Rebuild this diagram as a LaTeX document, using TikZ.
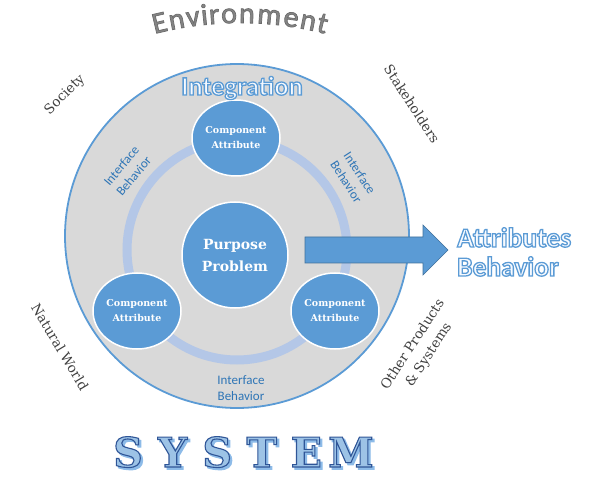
\documentclass[tikz,border=0pt]{standalone}
\usepackage{fontspec}
\usetikzlibrary{shapes.geometric,decorations.text}
\setmainfont{DejaVu Serif}
\newfontfamily\carlito{Carlito}
\definecolor{mainblue}{HTML}{5B9BD5}
\definecolor{darkblue}{HTML}{41719C}
\definecolor{ringblue}{HTML}{B4C7E7}
\definecolor{circgray}{HTML}{D9D9D9}
\definecolor{labelblue}{HTML}{2E75B6}
\definecolor{worldtext}{HTML}{404040}
% outlined text: #1 text, #2 stroke width, #3 stroke rgb, #4 fill rgb
\newcommand{\strokedtext}[4]{\special{pdf:literal direct q 2 Tr #2 w #3 RG #4 rg}#1\special{pdf:literal direct Q}}
\newcommand{\outlinetext}[1]{\strokedtext{#1}{1.3}{0.357 0.608 0.835}{0.97 0.98 1}}
\newcommand{\envchar}[1]{\strokedtext{#1}{0.7}{0.42 0.42 0.42}{0.52 0.52 0.52}}
\newcommand{\sysletter}[1]{\makebox[44.6pt]{\rlap{\hspace{2.2pt}\raisebox{-2.2pt}{\strokedtext{#1}{1.2}{0.553 0.733 0.91}{0.553 0.733 0.91}}}\strokedtext{#1}{1.1}{0.184 0.333 0.592}{0.616 0.765 0.902}}}
\tikzset{
  comp/.style={ellipse, fill=mainblue, draw=white, line width=1.5pt, minimum width=88pt, minimum height=76pt, inner sep=0pt, text=white, font=\fontsize{9.5}{15}\selectfont\bfseries, align=center},
  iface/.style={text=labelblue, font=\carlito\fontsize{13}{16}\selectfont, align=center, inner sep=0pt},
  world/.style={font=\fontsize{13.5}{19}\selectfont, text=worldtext, align=center, inner sep=0pt},
  bigout/.style={font=\carlito\bfseries\fontsize{26.5}{29}\selectfont, inner sep=0pt},
  arrowshape/.style={fill=mainblue, draw=darkblue, line width=0.6pt, line join=miter}
}
\begin{document}
\begin{tikzpicture}[x=1pt,y=1pt]
\useasboundingbox (0,0) rectangle (595,-481);
% system circle
\node[circle, fill=circgray, draw=mainblue, line width=1.8pt, minimum size=344pt, inner sep=0pt] (sys) at (237,-236) {};
% interface ring
\node[circle, draw=ringblue, line width=9pt, minimum size=220pt, inner sep=0pt] (ring) at (237,-250) {};
% output arrow
\draw[arrowshape] (305,-237) -- (423,-237) -- (423,-225) -- (448,-250) -- (423,-275) -- (423,-263) -- (305,-263) -- cycle;
% centre and components
\node[circle, fill=mainblue, draw=white, line width=1.5pt, minimum size=106pt, inner sep=0pt, text=white, font=\fontsize{14}{22}\selectfont\bfseries, align=center] (purpose) at (235,-255) {Purpose\\Problem};
\node[comp] (comptop) at (236,-138) {Component\\Attribute};
\node[comp] (compleft) at (137,-311) {Component\\Attribute};
\node[comp] (compright) at (335,-311) {Component\\Attribute};
% interface labels
\node[iface, rotate=50] (ifleft) at (127.5,-171) {Interface\\Behavior};
\node[iface, rotate=-57] (ifright) at (353,-177.5) {Interface\\Behavior};
\node[iface] (ifbottom) at (241,-388) {Interface\\Behavior};
% titles
\node[bigout] (integ) at (242,-88) {\outlinetext{Integration}};
\node[bigout, font=\carlito\bfseries\fontsize{27.5}{29}\selectfont, anchor=base west] (attr) at (457,-247) {\outlinetext{Attributes}};
\node[bigout, font=\carlito\bfseries\fontsize{27.5}{29}\selectfont, anchor=base west] (behav) at (457,-276) {\outlinetext{Behavior}};
% environment
\coordinate (envc) at (240,-364);
\path[decorate, decoration={text effects along path, text={Environment},
   text effects/.cd, text along path, fit text to path,
   characters={font=\carlito\fontsize{30}{30}\selectfont, inner sep=0pt},
   character command=\envchar}]
   (envc) ++(104.5:341) arc[start angle=104.5, end angle=75.5, radius=341];
% surrounding labels
\node[world, rotate=45] (society) at (65,-95) {Society};
\node[world, rotate=-57] (stake) at (412,-104) {Stakeholders};
\node[world, rotate=-59] (natural) at (60,-347) {Natural World};
\node[world, rotate=57] (other) at (421,-350) {Other Products\\\& Systems};
% SYSTEM
\node[inner sep=0pt, anchor=base, font=\fontsize{41}{41}\selectfont\bfseries] (system) at (239.5,-467) {\sysletter{S}\sysletter{Y}\sysletter{S}\sysletter{T}\sysletter{E}\sysletter{M}};
\end{tikzpicture}
\end{document}
